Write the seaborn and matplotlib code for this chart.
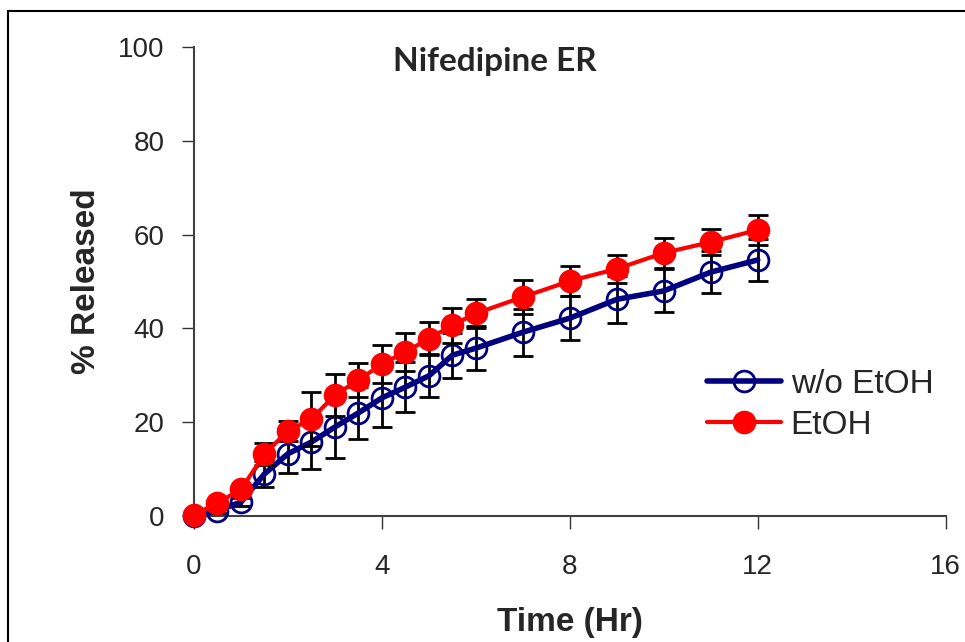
import matplotlib
matplotlib.use('Agg')
import matplotlib.pyplot as plt
import pandas as pd
import seaborn as sns
from matplotlib.lines import Line2D

# Release profile data
time_hr = [0, 0.5, 1, 1.5, 2, 2.5, 3, 3.5, 4, 4.5, 5, 5.5, 6, 7, 8, 9, 10, 11, 12]
no_etoh = [0, 1.2, 3.0, 9.0, 13.3, 15.8, 19.0, 22.0, 25.2, 27.5, 29.9, 34.3, 35.8,
           39.2, 42.2, 46.2, 48.0, 52.0, 54.6]
no_etoh_sd = [0, 0.5, 0.8, 2.8, 4.0, 5.8, 6.6, 5.6, 6.2, 5.3, 4.6, 4.8, 4.7,
              5.0, 4.7, 5.0, 4.6, 4.4, 4.5]
etoh = [0.3, 2.8, 5.7, 13.2, 18.2, 20.7, 25.8, 29.0, 32.4, 35.0, 37.8, 40.7, 43.2,
        46.7, 50.1, 52.7, 56.1, 58.4, 61.0]
etoh_sd = [0, 0.5, 0.8, 2.3, 2.1, 5.8, 4.5, 3.6, 4.0, 4.0, 3.5, 3.7, 3.0,
           3.6, 3.2, 3.0, 3.2, 2.8, 3.2]
series_names = ["w/o EtOH", "EtOH"]

sns.set_style("white")
plt.rcParams['font.family'] = ['Liberation Sans', 'DejaVu Sans']

df = pd.DataFrame({
    'time': time_hr * 2,
    'released': no_etoh + etoh,
    'sd': no_etoh_sd + etoh_sd,
    'series': [series_names[0]] * len(time_hr) + [series_names[1]] * len(time_hr),
})

fig = plt.figure(figsize=(9.65, 6.42), dpi=100)
ax = fig.add_axes([0.201, 0.196, 0.779, 0.731])

styles = {
    "w/o EtOH": dict(color="#000080", lw=4, mfc="none", ms=15, mew=2),
    "EtOH": dict(color="#FF0000", lw=3, mfc="#FF0000", ms=16, mew=1),
}

for i, name in enumerate(series_names):
    sub = df[df['series'] == name]
    st = styles[name]
    ax.errorbar(sub['time'], sub['released'], yerr=sub['sd'], fmt='none',
                ecolor='black', elinewidth=2, capsize=7, capthick=2,
                zorder=2 + 2 * i, clip_on=False)
    sns.lineplot(data=sub, x='time', y='released', ax=ax, color=st['color'],
                 linewidth=st['lw'], marker='o', markersize=st['ms'],
                 markerfacecolor=st['mfc'], markeredgecolor=st['color'],
                 markeredgewidth=st['mew'], label=name, zorder=3 + 2 * i,
                 errorbar=None, clip_on=False)

ax.set_xlim(0, 16)
ax.set_ylim(0, 100)
ax.set_xticks([0, 4, 8, 12, 16])
ax.set_yticks([0, 20, 40, 60, 80, 100])
ax.tick_params(axis='both', direction='out', length=9, width=1, labelsize=20,
               left=True, bottom=True, color='#333333')
ax.tick_params(axis='y', pad=12)
ax.tick_params(axis='x', pad=18)
for side in ['top', 'right']:
    ax.spines[side].set_visible(False)
for side in ['left', 'bottom']:
    ax.spines[side].set_color('#404040')
    ax.spines[side].set_linewidth(1.5)

ax.set_xlabel("Time (Hr)", fontsize=24, fontweight='bold', labelpad=20)
ax.set_ylabel("% Released", fontsize=24, fontweight='bold', labelpad=12)
ax.text(0.4, 1.0, "Nifedipine ER", transform=ax.transAxes, ha='center', va='top',
        fontsize=24, fontweight='bold', family=['Lato', 'DejaVu Sans'])

ax.legend(loc='center left', bbox_to_anchor=(0.683, 0.237), frameon=False,
          fontsize=24, handlelength=2.2, handletextpad=0.3, labelspacing=0.3,
          borderaxespad=0, borderpad=0)

# outer frame (only left and top edges visible in the reference)
fig.add_artist(Line2D([8 / 965, 8 / 965], [0, 1 - 11 / 642], color='black', lw=1.5))
fig.add_artist(Line2D([8 / 965, 1], [1 - 11 / 642, 1 - 11 / 642], color='black', lw=1.5))

fig.savefig("out.png", dpi=100)
